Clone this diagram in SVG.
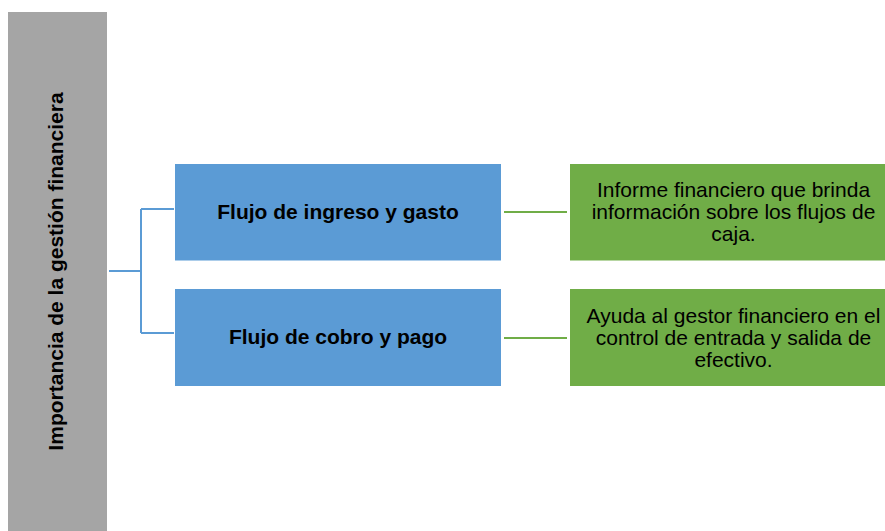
<svg xmlns="http://www.w3.org/2000/svg" width="885" height="531" viewBox="0 0 885 531">
<style>
.t{font-family:"Liberation Sans",Arial,sans-serif;font-size:21px;fill:#000;text-anchor:middle}
.b{font-weight:bold}
.blue{fill:#5B9BD5;stroke:#fff;stroke-width:1}
.green{fill:#70AD47;stroke:#fff;stroke-width:1}
.cb{fill:none;stroke:#5B9BD5;stroke-width:2}
.cg{fill:none;stroke:#70AD47;stroke-width:2}
</style>
<rect width="885" height="531" fill="#fff"/>
<g id="root">
<rect x="8" y="12" width="99" height="525" fill="#A5A5A5"/>
<text class="t b" transform="translate(63,271.5) rotate(-90)">Importancia de la gestión financiera</text>
</g>
<g id="connectors">
<path class="cb" d="M109,271 H141 M141,209 V333 M141,209 H174 M141,333 H174"/>
<path class="cg" d="M504,212 H567 M504,338 H567"/>
</g>
<g id="n1">
<rect class="blue" x="174.5" y="163.5" width="327" height="97.5"/>
<text class="t b" x="338" y="219">Flujo de ingreso y gasto</text>
</g>
<g id="n2">
<rect class="blue" x="174.5" y="288.5" width="327" height="98"/>
<text class="t b" x="338" y="344">Flujo de cobro y pago</text>
</g>
<g id="n3">
<rect class="green" x="569.5" y="163.5" width="330" height="97.5"/>
<text class="t" x="733.5"><tspan x="733.5" y="197">Informe financiero que brinda</tspan><tspan x="733.5" y="219">información sobre los flujos de</tspan><tspan x="733.5" y="241">caja.</tspan></text>
</g>
<g id="n4">
<rect class="green" x="569.5" y="288.5" width="330" height="98"/>
<text class="t" x="733.5"><tspan x="733.5" y="323">Ayuda al gestor financiero en el</tspan><tspan x="733.5" y="345">control de entrada y salida de</tspan><tspan x="733.5" y="367">efectivo.</tspan></text>
</g>
</svg>
